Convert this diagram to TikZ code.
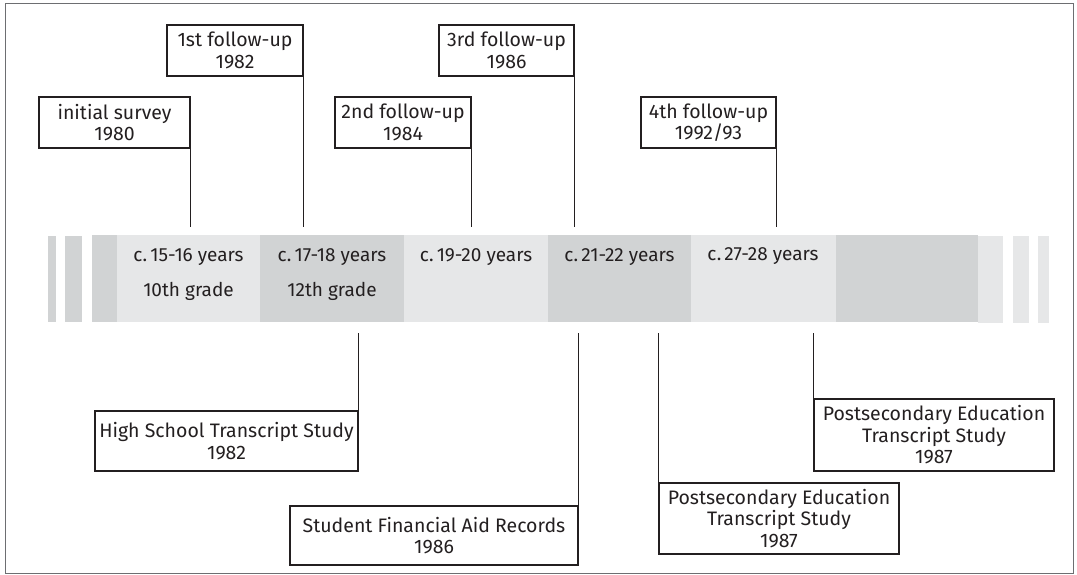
\documentclass[tikz,border=0pt]{standalone}
\usepackage{fontspec}
\setmainfont{Fira Sans}
\definecolor{bandlight}{HTML}{E6E7E8}
\definecolor{banddark}{HTML}{D1D3D4}
\definecolor{ink}{HTML}{231F20}
\definecolor{framegray}{HTML}{6D6E71}
\begin{document}
\begin{tikzpicture}[x=1pt,y=-1pt,
  lbl/.style={draw=ink, line width=1.1pt, inner sep=0pt, align=center, font=\fontsize{19.5}{21.5}\selectfont, text=ink},
  yrs/.style={inner sep=0pt, align=center, font=\fontsize{19}{21.5}\selectfont, text=ink},
  conn/.style={draw=ink, line width=1.2pt}]
\useasboundingbox (0,0) rectangle (1077,575);
\draw[framegray, line width=1pt] (5,4) rectangle (1073,573);
% band
\fill[banddark] (48,236) rectangle (56,322);
\fill[banddark] (65,236) rectangle (82,322);
\fill[banddark] (92,235) rectangle (117,322);
\fill[bandlight] (117,235) rectangle (260,322);
\fill[banddark] (260,235) rectangle (404,322);
\fill[bandlight] (404,235) rectangle (548,322);
\fill[banddark] (548,235) rectangle (691,322);
\fill[bandlight] (691,235) rectangle (836,322);
\fill[banddark] (836,235) rectangle (978,322);
\fill[bandlight] (978,236) rectangle (1003,323);
\fill[bandlight] (1013,236) rectangle (1029,323);
\fill[bandlight] (1038,236) rectangle (1049,323);
% band labels
\node[yrs] (y1) at (188.5,257) {c.\,15-16 years};
\node[yrs] (g1) at (188.5,291) {10th grade};
\node[yrs] (y2) at (332,257) {c.\,17-18 years};
\node[yrs] (g2) at (332,291) {12th grade};
\node[yrs] (y3) at (476,257) {c.\,19-20 years};
\node[yrs] (y4) at (619.5,257) {c.\,21-22 years};
\node[yrs] (y5) at (763,256) {c.\,27-28 years};
% top boxes
\node[lbl, minimum width=151pt, minimum height=51pt] (init) at (114.5,122.5) {initial survey\\1980};
\node[lbl, minimum width=136pt, minimum height=51pt] (fu1) at (235,50.5) {1st follow-up\\1982};
\node[lbl, minimum width=136pt, minimum height=51pt] (fu2) at (403,122.5) {2nd follow-up\\1984};
\node[lbl, minimum width=135pt, minimum height=51pt] (fu3) at (506.5,50.5) {3rd follow-up\\1986};
\node[lbl, minimum width=135pt, minimum height=51pt] (fu4) at (708.5,122.5) {4th follow-up\\1992/93};
% bottom boxes
\node[lbl, minimum width=263pt, minimum height=60pt] (hs) at (226.5,441) {High School Transcript Study\\1982};
\node[lbl, minimum width=288pt, minimum height=59pt] (sfa) at (434,535.5) {Student Financial Aid Records\\1986};
\node[lbl, minimum width=240pt, minimum height=71pt] (pse1) at (779,518.5) {Postsecondary Education\\Transcript Study\\1987};
\node[lbl, minimum width=240pt, minimum height=72pt] (pse2) at (934,435) {Postsecondary Education\\Transcript Study\\1987};
% connector ends
\coordinate (t1) at (init.south east |- 0,227);
\coordinate (t2) at (fu1.south east |- 0,227);
\coordinate (t3) at (fu2.south east |- 0,227);
\coordinate (t4) at (fu3.south east |- 0,227);
\coordinate (t5) at (fu4.south east |- 0,227);
\coordinate (b1) at (hs.north east |- 0,333);
\coordinate (b2) at (sfa.north east |- 0,333);
\coordinate (b3) at (pse1.north west |- 0,333);
\coordinate (b4) at (pse2.north west |- 0,333);
\draw[conn] (init.south east) -- (t1);
\draw[conn] (fu1.south east) -- (t2);
\draw[conn] (fu2.south east) -- (t3);
\draw[conn] (fu3.south east) -- (t4);
\draw[conn] (fu4.south east) -- (t5);
\draw[conn] (b1) -- (hs.north east);
\draw[conn] (b2) -- (sfa.north east);
\draw[conn] (b3) -- (pse1.north west);
\draw[conn] (b4) -- (pse2.north west);
\end{tikzpicture}
\end{document}
